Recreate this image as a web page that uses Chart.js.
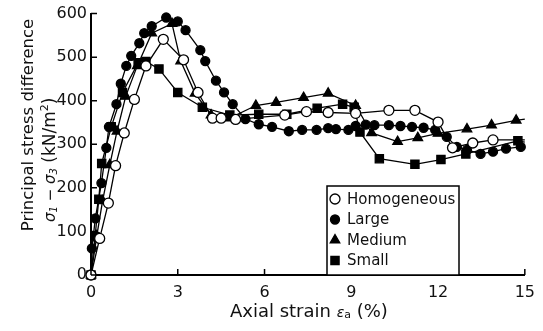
<!DOCTYPE html>
<html>
<head>
<meta charset="utf-8">
<script src="https://cdn.jsdelivr.net/npm/chart.js@4.4.1/dist/chart.umd.min.js"></script>
<style>
  html, body { margin: 0; padding: 0; background: #fff; }
  #wrap { width: 543px; height: 331px; }
</style>
</head>
<body>
<div id="wrap"><canvas id="myChart"></canvas></div>
<script>
// values: axial strain (%) vs principal stress difference (kN/m2)
const seriesNames = ['Homogeneous', 'Large', 'Medium', 'Small'];

const homX = [0, 0.3, 0.6, 0.85, 1.15, 1.5, 1.9, 2.5, 3.2, 3.7, 4.2, 4.5, 5.0, 6.7, 7.45, 8.2, 9.15, 10.3, 11.2, 12.0, 12.5, 13.2, 13.9, 15];
const homY = [0, 84, 165, 251, 326, 403, 480, 541, 494, 419, 360, 360, 357, 367, 375, 373, 371, 378, 378, 351, 292, 303, 310, 310];

const largeX = [0, 0.03, 0.15, 0.36, 0.53, 0.62, 0.88, 1.03, 1.22, 1.39, 1.67, 1.84, 2.1, 2.6, 3.0, 3.27, 3.78, 3.95, 4.32, 4.6, 4.9, 5.34, 5.8, 6.26, 6.84, 7.3, 7.8, 8.2, 8.47, 8.9, 9.15, 9.5, 9.8, 10.3, 10.7, 11.1, 11.5, 11.9, 12.3, 12.65, 13.0, 13.47, 13.9, 14.35, 14.86, 15];
const largeY = [0, 61, 130, 211, 292, 340, 392, 439, 480, 503, 532, 555, 571, 591, 582, 562, 516, 491, 446, 419, 392, 358, 346, 340, 330, 333, 333, 337, 335, 333, 342, 345, 344, 344, 342, 340, 338, 333, 317, 294, 287, 278, 283, 290, 294, 292];

const medX = [0, 0.2, 0.4, 0.65, 0.9, 1.2, 1.6, 2.1, 2.8, 3.1, 3.6, 4.15, 4.8, 5.7, 6.4, 7.35, 8.2, 9.15, 9.7, 10.6, 11.3, 12.0, 13.0, 13.85, 14.7, 15];
const medY = [0, 90, 170, 253, 330, 410, 480, 555, 577, 491, 417, 367, 360, 389, 396, 407, 417, 389, 326, 306, 315, 325, 335, 344, 355, 358];

const smallX = [0, 0.14, 0.27, 0.37, 0.7, 1.09, 1.63, 1.9, 2.35, 3.0, 3.85, 4.8, 5.8, 6.77, 7.82, 8.7, 9.1, 9.3, 9.97, 11.2, 12.1, 12.96, 14.76, 15];
const smallY = [0, 88, 174, 256, 340, 419, 487, 490, 473, 419, 385, 367, 369, 369, 383, 392, 385, 328, 267, 254, 265, 278, 308, 305];

const xTicks = [0, 3, 6, 9, 12, 15];
const yTicks = [0, 100, 200, 300, 400, 500, 600];

const FONT = '"DejaVu Sans", "Liberation Sans", Arial, sans-serif';

function pts(xs, ys) {
  return xs.map((x, i) => ({ x: x, y: ys[i] }));
}

const styles = [
  { pointStyle: 'circle', radius: 5, fill: '#fff' },
  { pointStyle: 'circle', radius: 4.5, fill: '#000' },
  { pointStyle: 'triangle', radius: 5.5, fill: '#000' },
  { pointStyle: 'rect', radius: 5.8, fill: '#000' }
];
const allData = [pts(homX, homY), pts(largeX, largeY), pts(medX, medY), pts(smallX, smallY)];

const datasets = seriesNames.map((name, i) => ({
  label: name,
  data: allData[i],
  borderColor: '#000',
  borderWidth: 1.3,
  tension: 0,
  pointStyle: styles[i].pointStyle,
  // the curves run on to the right edge past their last marker
  pointRadius: (c) => (c.raw && c.raw.x >= 15 ? 0 : styles[i].radius),
  legendRadius: styles[i].radius,
  pointBackgroundColor: styles[i].fill,
  pointBorderColor: '#000',
  pointBorderWidth: 1.3,
  clip: false
}));

// inward tick marks on both axes
const tickMarks = {
  id: 'tickMarks',
  afterDraw(chart) {
    const ctx = chart.ctx;
    const xs = chart.scales.x, ys = chart.scales.y;
    ctx.save();
    ctx.strokeStyle = '#000';
    ctx.lineWidth = 1.5;
    ctx.beginPath();
    yTicks.forEach(v => {
      const p = ys.getPixelForValue(v);
      ctx.moveTo(xs.left, p);
      ctx.lineTo(xs.left + 6, p);
    });
    xTicks.forEach(v => {
      const p = xs.getPixelForValue(v);
      ctx.moveTo(p, ys.bottom);
      ctx.lineTo(p, ys.bottom - 6);
    });
    ctx.stroke();
    ctx.restore();
  }
};

// axis titles with italic symbols and sub/superscripts
function runs(ctx, parts, x, y) {
  parts.forEach(p => {
    ctx.font = (p.italic ? 'italic ' : '') + p.size + 'px ' + FONT;
    ctx.fillText(p.t, x, y + (p.dy || 0));
    x += ctx.measureText(p.t).width;
  });
  return x;
}
function runsWidth(ctx, parts) {
  let w = 0;
  parts.forEach(p => {
    ctx.font = (p.italic ? 'italic ' : '') + p.size + 'px ' + FONT;
    w += ctx.measureText(p.t).width;
  });
  return w;
}

const axisTitles = {
  id: 'axisTitles',
  afterDraw(chart) {
    const ctx = chart.ctx;
    ctx.save();
    ctx.fillStyle = '#111';
    ctx.textBaseline = 'alphabetic';
    ctx.textAlign = 'left';

    // x title
    const xt = [
      { t: 'Axial strain ', size: 18 },
      { t: 'ε', size: 14, italic: true },
      { t: 'a', size: 11, dy: 1 },
      { t: ' (%)', size: 18 }
    ];
    const cx = (chart.chartArea.left + chart.chartArea.right) / 2 + 1;
    runs(ctx, xt, cx - runsWidth(ctx, xt) / 2, 317);

    // y title, line 1
    ctx.save();
    ctx.translate(33, 125);
    ctx.rotate(-Math.PI / 2);
    ctx.textAlign = 'center';
    ctx.font = '16.5px ' + FONT;
    ctx.fillText('Principal stress difference', 0, 0);
    ctx.restore();

    // y title, line 2
    const yt = [
      { t: 'σ', size: 15, italic: true },
      { t: '1', size: 10, italic: true, dy: 2 },
      { t: ' − ', size: 15 },
      { t: 'σ', size: 15, italic: true },
      { t: '3', size: 10, italic: true, dy: 2 },
      { t: ' (kN/m', size: 17 },
      { t: '2', size: 11, dy: -7 },
      { t: ')', size: 17 }
    ];
    ctx.save();
    ctx.translate(55, 222);
    ctx.rotate(-Math.PI / 2);
    runs(ctx, yt, 0, 0);
    ctx.restore();

    ctx.restore();
  }
};

// legend box inside the plot area
const boxLegend = {
  id: 'boxLegend',
  afterDraw(chart) {
    const ctx = chart.ctx;
    const left = 327, right = 459, top = 186, bottom = chart.chartArea.bottom;
    ctx.save();
    ctx.fillStyle = '#fff';
    ctx.fillRect(left, top, right - left, bottom - top);
    ctx.strokeStyle = '#000';
    ctx.lineWidth = 1.5;
    ctx.strokeRect(left, top, right - left, bottom - top);
    ctx.font = '15px ' + FONT;
    ctx.textBaseline = 'middle';
    ctx.textAlign = 'left';
    chart.data.datasets.forEach((ds, i) => {
      const y = top + 13 + i * 20.5;
      const mx = left + 8;
      ctx.fillStyle = ds.pointBackgroundColor;
      ctx.strokeStyle = '#000';
      ctx.lineWidth = 1.3;
      Chart.helpers.drawPoint(ctx, {
        pointStyle: ds.pointStyle,
        radius: ds.legendRadius,
        borderWidth: 1.3,
        rotation: 0
      }, mx, y);
      ctx.fillStyle = '#111';
      ctx.fillText(ds.label, left + 20, y + 1);
    });
    ctx.restore();
  }
};

new Chart(document.getElementById('myChart'), {
  type: 'line',
  data: { datasets: datasets },
  options: {
    responsive: true,
    maintainAspectRatio: false,
    animation: false,
    events: [],
    layout: { padding: { top: 10, right: 11, left: 0, bottom: 0 } },
    plugins: {
      legend: { display: false },
      tooltip: { enabled: false }
    },
    scales: {
      x: {
        type: 'linear',
        min: 0,
        max: 15,
        afterFit: (s) => { s.height = 56; },
        afterBuildTicks: (s) => { s.ticks = xTicks.map(v => ({ value: v })); },
        grid: { display: false, drawTicks: false },
        border: { display: true, color: '#000', width: 2 },
        ticks: { color: '#111', padding: 8, maxRotation: 0, font: { family: FONT, size: 16 } }
      },
      y: {
        type: 'linear',
        min: 0,
        max: 600,
        afterFit: (s) => { s.width = 91; },
        afterBuildTicks: (s) => { s.ticks = yTicks.map(v => ({ value: v })); },
        grid: { display: false, drawTicks: false },
        border: { display: true, color: '#000', width: 2 },
        ticks: { color: '#111', padding: 4, font: { family: FONT, size: 16 } }
      }
    }
  },
  plugins: [tickMarks, axisTitles, boxLegend]
});
</script>
</body>
</html>
